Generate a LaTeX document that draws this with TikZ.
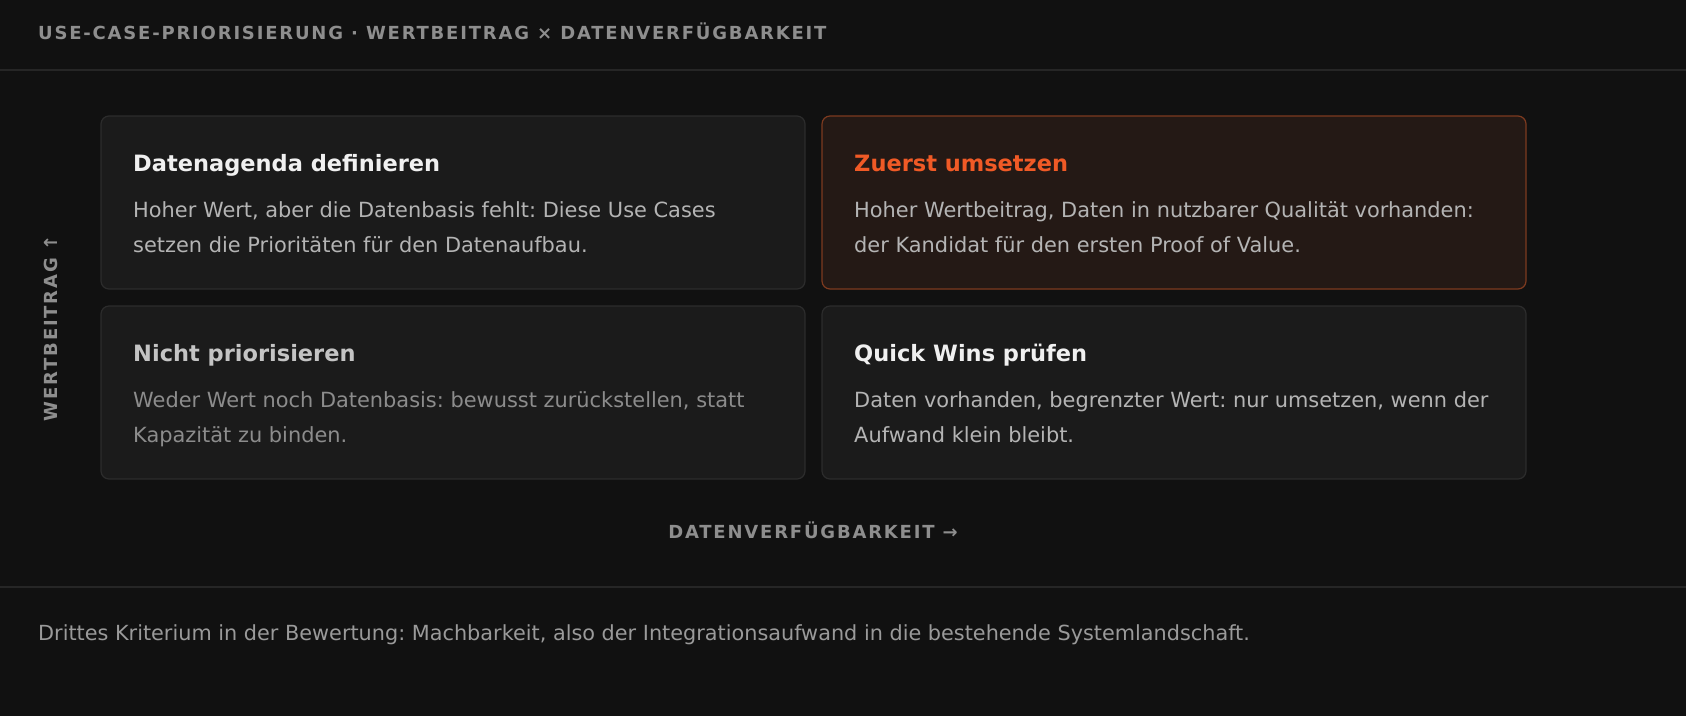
\documentclass[tikz,border=0pt]{standalone}
\usepackage{fontspec}
\setmainfont{DejaVu Sans}
\newfontfamily\capsfont[LetterSpace=10]{DejaVu Sans}
\definecolor{bg}{HTML}{111111}
\definecolor{boxfill}{HTML}{1B1B1B}
\definecolor{boxline}{HTML}{2C2C2C}
\definecolor{hotfill}{HTML}{241915}
\definecolor{hotline}{HTML}{7D3A1F}
\definecolor{hottitle}{HTML}{F05A26}
\definecolor{titlewhite}{HTML}{F0F0F0}
\definecolor{titledim}{HTML}{C4C4C4}
\definecolor{bodytext}{HTML}{B4B4B4}
\definecolor{bodydim}{HTML}{8C8C8C}
\definecolor{captext}{HTML}{8E8E8E}
\definecolor{foottext}{HTML}{9A9A9A}
\definecolor{rulecol}{HTML}{262626}
\begin{document}
\frenchspacing
\begin{tikzpicture}[x=1pt,y=-1pt,
  quad/.style={draw=boxline,fill=boxfill,line width=1.2pt,rounded corners=8pt},
  hotquad/.style={draw=hotline,fill=hotfill,line width=1.2pt,rounded corners=8pt},
  qtitle/.style={anchor=base west,inner sep=0pt,font=\fontsize{22.5}{26}\selectfont\bfseries},
  qbody/.style={anchor=base west,inner sep=0pt,font=\fontsize{20.9}{24}\selectfont},
  caps/.style={inner sep=0pt,text=captext,font=\fontsize{18}{20}\capsfont\bfseries},
  divider/.style={draw=rulecol,line width=1.2pt}]
\fill[bg] (0,0) rectangle (1686,716);
\useasboundingbox (0,0) rectangle (1686,716);
% header
\node[caps,anchor=base west] (head) at (38,39) {USE-CASE-PRIORISIERUNG · WERTBEITRAG × DATENVERFÜGBARKEIT};
\coordinate (hl) at (0,70); \coordinate (hr) at (1686,70);
\draw[divider] (hl) -- (hr);
% quadrants
\draw[quad] (101,116) rectangle (805,289);
\node[inner sep=0pt] (tl) at (453,202.5) {};
\draw[hotquad] (822,116) rectangle (1526,289);
\node[inner sep=0pt] (tr) at (1174,202.5) {};
\draw[quad] (101,306) rectangle (805,479);
\node[inner sep=0pt] (bl) at (453,392.5) {};
\draw[quad] (822,306) rectangle (1526,479);
\node[inner sep=0pt] (br) at (1174,392.5) {};
% texts TL
\node[qtitle,text=titlewhite] (tlt) at (133,171) {Datenagenda definieren};
\node[qbody,text=bodytext] (tlb1) at (133,217) {Hoher Wert, aber die Datenbasis fehlt: Diese Use Cases};
\node[qbody,text=bodytext] (tlb2) at (133,252) {setzen die Prioritäten für den Datenaufbau.};
% TR
\node[qtitle,text=hottitle] (trt) at (854,171) {Zuerst umsetzen};
\node[qbody,text=bodytext] (trb1) at (854,217) {Hoher Wertbeitrag, Daten in nutzbarer Qualität vorhanden:};
\node[qbody,text=bodytext] (trb2) at (854,252) {der Kandidat für den ersten Proof of Value.};
% BL
\node[qtitle,text=titledim] (blt) at (133,361) {Nicht priorisieren};
\node[qbody,text=bodydim] (blb1) at (133,407) {Weder Wert noch Datenbasis: bewusst zurückstellen, statt};
\node[qbody,text=bodydim] (blb2) at (133,442) {Kapazität zu binden.};
% BR
\node[qtitle,text=titlewhite] (brt) at (854,361) {Quick Wins prüfen};
\node[qbody,text=bodytext] (brb1) at (854,407) {Daten vorhanden, begrenzter Wert: nur umsetzen, wenn der};
\node[qbody,text=bodytext] (brb2) at (854,442) {Aufwand klein bleibt.};
% axes
\node[caps,rotate=90] (yax) at (51,328) {WERTBEITRAG ↑};
\node[caps] (xax) at (813,530) {DATENVERFÜGBARKEIT →};
% footer
\coordinate (fl) at (0,587); \coordinate (fr) at (1686,587);
\draw[divider] (fl) -- (fr);
\node[anchor=base west,inner sep=0pt,text=foottext,font=\fontsize{20.8}{24}\selectfont] (foot) at (38,640) {Drittes Kriterium in der Bewertung: Machbarkeit, also der Integrationsaufwand in die bestehende Systemlandschaft.};
\end{tikzpicture}
\end{document}
